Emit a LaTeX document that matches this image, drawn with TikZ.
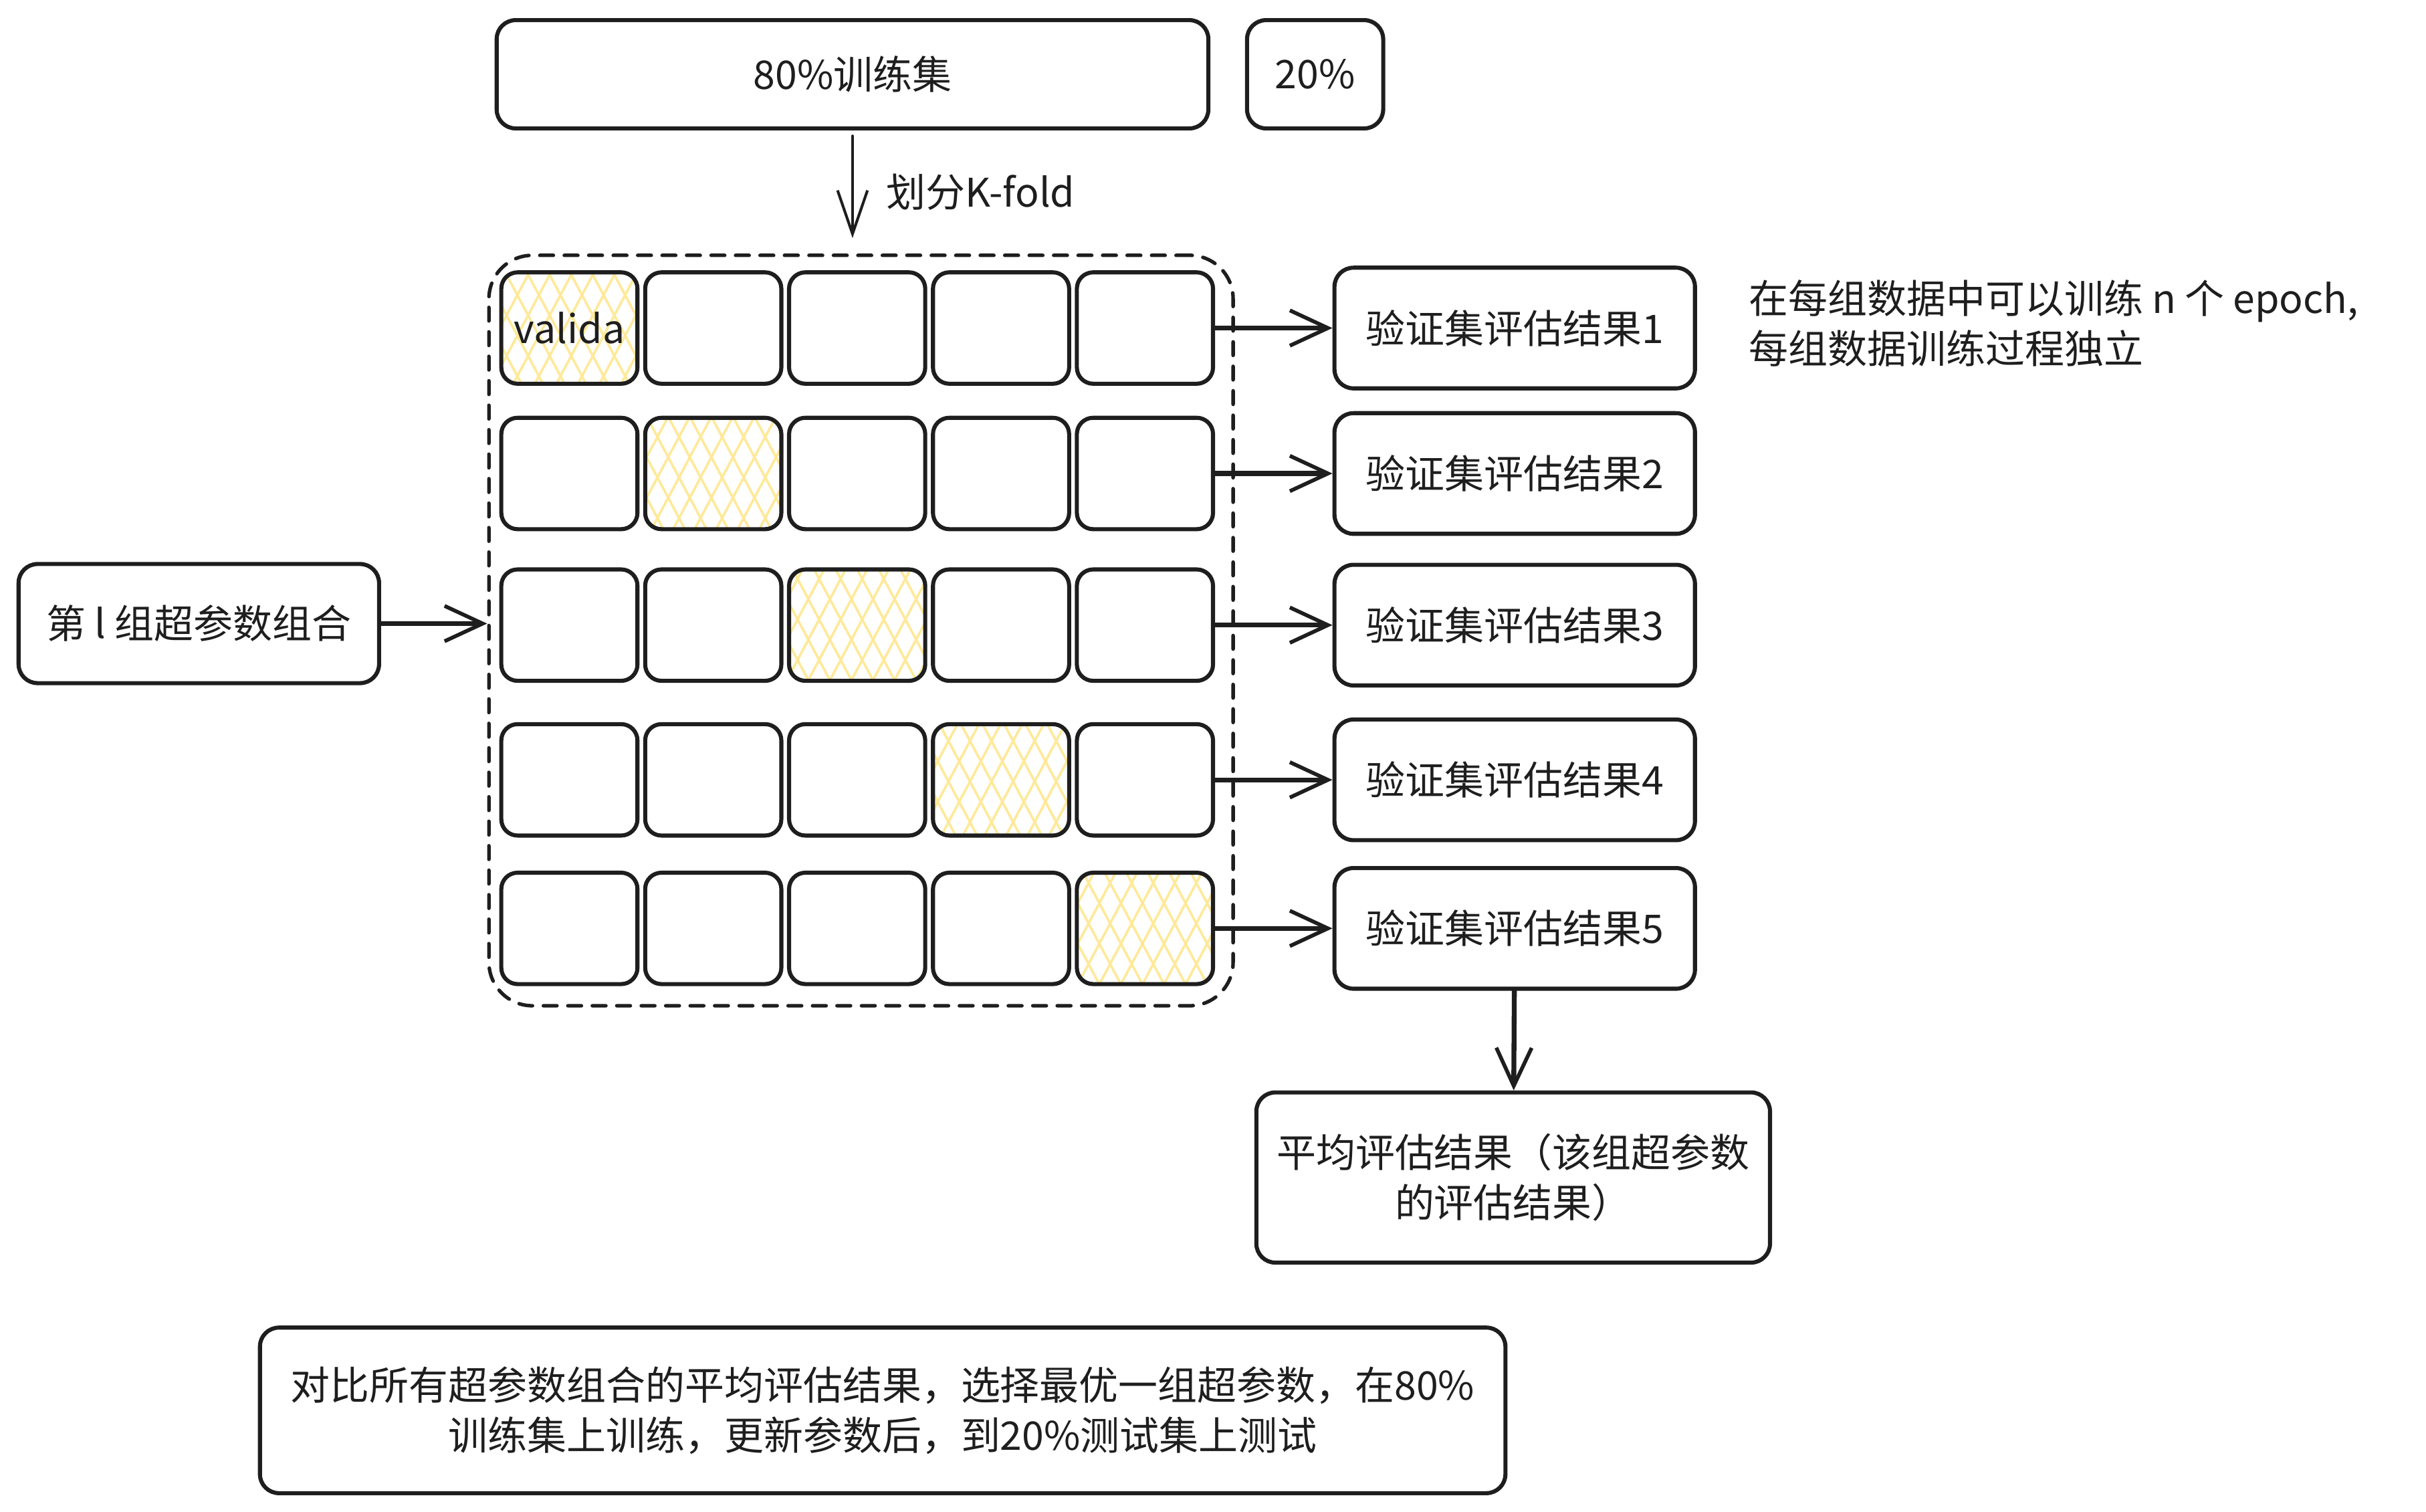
\documentclass[tikz,border=0pt]{standalone}
\usepackage{fontspec}
\setmainfont{Noto Sans CJK SC}
\usepackage{tikz}
\usetikzlibrary{arrows.meta, patterns.meta}

\begin{document}
\begin{tikzpicture}
		[line cap=round,line join=round,
		font=\fontsize{14.5}{18.5}\selectfont,
		%Styles
		box/.style={draw=ink,line width=1.5pt,rounded corners=7pt,inner sep=0pt,align=center,text=ink},
		fold/.style={box,rounded corners=6pt,minimum width=1.76cm,minimum height=1.44cm},
		valid/.style={fold,
			preaction={pattern={Lines[angle=62,distance=7pt,line width=.9pt]},pattern color=hatchcolor},
			pattern={Lines[angle=-62,distance=7pt,line width=.9pt]},pattern color=hatchcolor},
		result/.style={box,minimum width=4.66cm,minimum height=1.56cm},
		frame/.style={draw=ink,line width=1.3pt,dash pattern=on 5pt off 4pt,rounded corners=16pt},
		link/.style={draw=ink,line width=1.8pt,-{Straight Barb[length=14pt,width=13pt,line width=1.4pt]}},
		thin link/.style={draw=ink,line width=1pt,-{Straight Barb[length=16pt,width=11pt]}},
		note/.style={align=left,inner sep=0pt,text=ink}
		]
		
		%Colors
		\definecolor{ink}{HTML}{1E1E1E}
		\definecolor{hatchcolor}{HTML}{FFE999}
		
		\useasboundingbox (0,0) rectangle (31.36,-19.535);
		
		%The graphic
		\node[box,minimum width=9.2cm,minimum height=1.4cm] (Train) at (11.02, -0.96) {80\%训练集};
		\node[box,minimum width=1.76cm,minimum height=1.4cm] (Test) at (17.0, -0.96) {20\%};
		
		\node[frame,minimum width=9.62cm,minimum height=9.7cm] (Frame) at (11.13, -8.15) {};
		
		\node[valid] (C11) at (7.36, -4.24) {valida};
		\node[fold] (C12) at (9.22, -4.24) {};
		\node[fold] (C13) at (11.08, -4.24) {};
		\node[fold] (C14) at (12.94, -4.24) {};
		\node[fold] (C15) at (14.80, -4.24) {};
		
		\node[fold] (C21) at (7.36, -6.12) {};
		\node[valid] (C22) at (9.22, -6.12) {};
		\node[fold] (C23) at (11.08, -6.12) {};
		\node[fold] (C24) at (12.94, -6.12) {};
		\node[fold] (C25) at (14.80, -6.12) {};
		
		\node[fold] (C31) at (7.36, -8.08) {};
		\node[fold] (C32) at (9.22, -8.08) {};
		\node[valid] (C33) at (11.08, -8.08) {};
		\node[fold] (C34) at (12.94, -8.08) {};
		\node[fold] (C35) at (14.80, -8.08) {};
		
		\node[fold] (C41) at (7.36, -10.08) {};
		\node[fold] (C42) at (9.22, -10.08) {};
		\node[fold] (C43) at (11.08, -10.08) {};
		\node[valid] (C44) at (12.94, -10.08) {};
		\node[fold] (C45) at (14.80, -10.08) {};
		
		\node[fold] (C51) at (7.36, -12.0) {};
		\node[fold] (C52) at (9.22, -12.0) {};
		\node[fold] (C53) at (11.08, -12.0) {};
		\node[fold] (C54) at (12.94, -12.0) {};
		\node[valid] (C55) at (14.80, -12.0) {};
		
		\node[result] (R1) at (19.58, -4.24) {验证集评估结果1};
		\node[result] (R2) at (19.58, -6.12) {验证集评估结果2};
		\node[result] (R3) at (19.58, -8.08) {验证集评估结果3};
		\node[result] (R4) at (19.58, -10.08) {验证集评估结果4};
		\node[result] (R5) at (19.58, -12.0) {验证集评估结果5};
		
		\node[note,anchor=west] (Note) at (22.6, -4.18) {在每组数据中可以训练 n 个 epoch,\\每组数据训练过程独立};
		
		\node[box,minimum width=4.66cm,minimum height=1.54cm] (Hyper) at (2.57, -8.06) {第 l 组超参数组合};
		
		\node[box,minimum width=6.64cm,minimum height=2.2cm] (Avg) at (19.56, -15.22) {平均评估结果（该组超参数\\的评估结果）};
		
		\node[box,minimum width=16.1cm,minimum height=2.14cm] (Final) at (11.41, -18.23) {对比所有超参数组合的平均评估结果，选择最优一组超参数，在80\%\\训练集上训练，更新参数后，到20\%测试集上测试};
		
		\draw[thin link,shorten <=2pt,shorten >=0.2cm] (Train.south) -- node[right=0.3cm,text=ink] (Split) {划分K-fold} (Train.south |- Frame.north);
		
		\path[link]
			(C15)	edge	(R1)
			(C25)	edge	(R2)
			(C35)	edge	(R3)
			(C45)	edge	(R4)
			(C55)	edge	(R5)
			(Hyper)	edge	(Hyper.east -| Frame.west)
			(R5)	edge	(Avg);
	\end{tikzpicture}
\end{document}
